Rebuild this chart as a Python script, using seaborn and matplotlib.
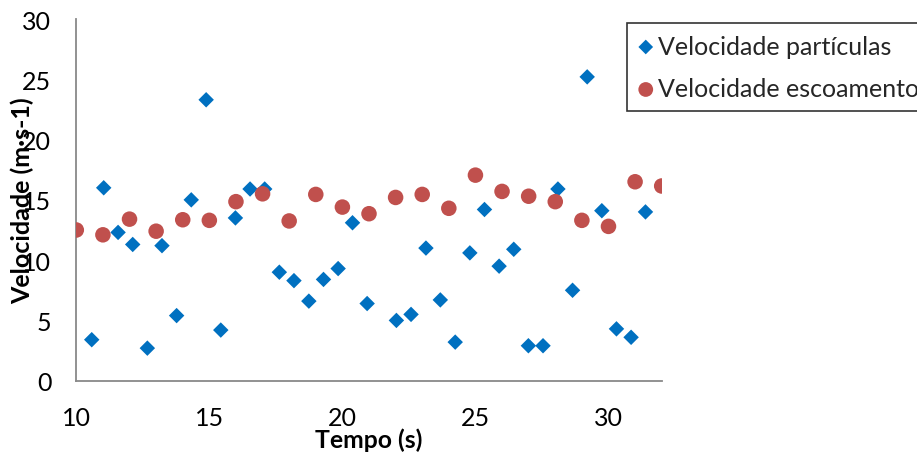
import matplotlib
matplotlib.use("Agg")
import matplotlib.pyplot as plt
import seaborn as sns
import pandas as pd

# Data
tempo_particulas = [10.58, 11.03, 11.57, 12.12, 12.67, 13.22, 13.77, 14.32, 14.88, 15.43,
                    15.98, 16.53, 17.08, 17.63, 18.18, 18.74, 19.29, 19.84, 20.38, 20.93,
                    22.03, 22.58, 23.14, 23.68, 24.24, 24.79, 25.34, 25.89, 26.44, 26.99,
                    27.54, 28.10, 28.65, 29.20, 29.75, 30.30, 30.85, 31.39]
vel_particulas = [3.4, 16.0, 12.3, 11.3, 2.7, 11.2, 5.4, 15.0, 23.3, 4.2,
                  13.5, 15.9, 15.9, 9.0, 8.3, 6.6, 8.4, 9.3, 13.1, 6.4,
                  5.0, 5.5, 11.0, 6.7, 3.2, 10.6, 14.2, 9.5, 10.9, 2.9,
                  2.9, 15.9, 7.5, 25.2, 14.1, 4.3, 3.6, 14.0]

tempo_escoamento = [10, 11, 12, 13, 14, 15, 16, 17, 18, 19, 20,
                    21, 22, 23, 24, 25, 26, 27, 28, 29, 30, 31, 32]
vel_escoamento = [12.5, 12.1, 13.4, 12.4, 13.35, 13.3, 14.85, 15.5, 13.25, 15.45, 14.4,
                  13.85, 15.2, 15.45, 14.3, 17.05, 15.7, 15.3, 14.85, 13.3, 12.8, 16.5, 16.15]

label_part = "Velocidade partículas"
label_esc = "Velocidade escoamento"
xticks = [10, 15, 20, 25, 30]
yticks = [0, 5, 10, 15, 20, 25, 30]

df_p = pd.DataFrame({"Tempo": tempo_particulas, "Vel": vel_particulas})
df_e = pd.DataFrame({"Tempo": tempo_escoamento, "Vel": vel_escoamento})

sns.set_theme(style="white")
plt.rcParams["font.family"] = ["Lato", "DejaVu Sans"]

W, H = 917, 456
fig = plt.figure(figsize=(W / 100, H / 100), dpi=100)
ax = fig.add_axes([76.3 / W, 1 - 381.7 / H, (661.7 - 76.3) / W, (381.7 - 20) / H])

sns.scatterplot(data=df_p, x="Tempo", y="Vel", ax=ax, marker="D", s=62,
                color="#0070C0", edgecolor="none", label=label_part, zorder=3)
sns.scatterplot(data=df_e, x="Tempo", y="Vel", ax=ax, marker="o", s=125,
                color="#C0504D", edgecolor="none", label=label_esc, zorder=3)

ax.set_xlim(10, 32)
ax.set_ylim(0, 30)
ax.set_xticks(xticks)
ax.set_yticks(yticks)
ax.tick_params(axis="both", length=0, labelsize=18, colors="black")
ax.tick_params(axis="y", pad=18)
ax.tick_params(axis="x", pad=18)

for s in ["top", "right"]:
    ax.spines[s].set_visible(False)
for s in ["left", "bottom"]:
    ax.spines[s].set_color("#898989")
    ax.spines[s].set_linewidth(1.3)
ax.grid(False)

ax.set_xlabel("Tempo (s)", fontsize=17.8, fontweight="bold", color="black")
ax.set_ylabel("Velocidade (m·s-1)", fontsize=18, fontweight="bold", color="black")
ax.xaxis.set_label_coords(0.5, (381.7 - 440) / 361.7)
ax.xaxis.label.set_va("center")
ax.yaxis.set_label_coords((22 - 76.3) / 585.4, 0.5)
ax.yaxis.label.set_va("center")
ax.yaxis.label.set_zorder(5)

ax.get_legend().remove()
handles, labels = ax.get_legend_handles_labels()
leg = fig.legend(handles, labels, loc="upper left",
                 bbox_to_anchor=(627 / W, 1 - 24.3 / H), bbox_transform=fig.transFigure,
                 borderaxespad=0, frameon=True, fancybox=False, fontsize=18,
                 markerscale=0.95, handlelength=0.6, handletextpad=0.2,
                 borderpad=0.45, labelspacing=0.78)
leg.get_frame().set_edgecolor("black")
leg.get_frame().set_linewidth(1.2)
leg.get_frame().set_facecolor("white")

fig.savefig("out.png", dpi=100)
